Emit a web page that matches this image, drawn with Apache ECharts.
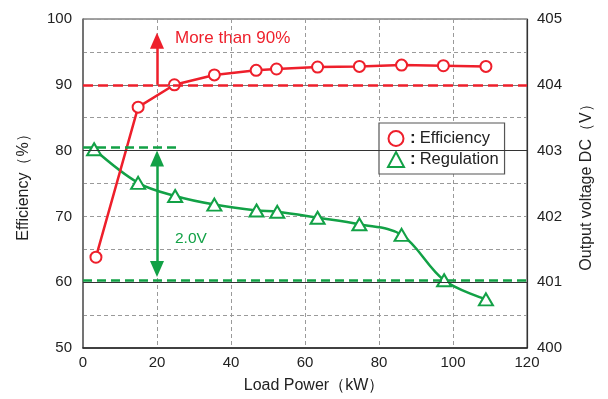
<!DOCTYPE html>
<html><head><meta charset="utf-8">
<script src="https://cdn.jsdelivr.net/npm/echarts@6/dist/echarts.min.js"></script>
<style>html,body{margin:0;padding:0;background:#fff}#c{width:608px;height:399px}</style>
</head><body><div id="c"></div>
<script>
// Data
var effX = [3.5, 14.9, 24.7, 35.5, 46.8, 52.3, 63.4, 74.7, 86.1, 97.4, 108.9];
var effY = [63.8, 86.6, 90.0, 91.5, 92.2, 92.4, 92.7, 92.8, 93.0, 92.9, 92.8];
var regX = [3.0, 14.9, 24.9, 35.5, 46.9, 52.5, 63.4, 74.7, 86.1, 97.6, 108.9];
var regY = [403.02, 402.51, 402.31, 402.18, 402.09, 402.07, 401.98, 401.88, 401.72, 401.03, 400.74];
var xTicks = [0, 20, 40, 60, 80, 100, 120];
var effTicks = [50, 60, 70, 80, 90, 100];
var voltTicks = [400, 401, 402, 403, 404, 405];
var effTarget = 90;          // "More than 90%"
var effArrow = [20, 90, 96.7];
var voltUpper = 403.05, voltUpperEndX = 25.7;
var voltLower = 401.03;
var voltArrow = [20, 402.88, 401.2];
var seriesNames = ['Efficiency', 'Regulation'];

var RED = '#ee1f2b', GREEN = '#12a146', TXT = '#222', FONT = 'Liberation Sans, Arial, Helvetica, sans-serif';
var chart = echarts.init(document.getElementById('c'), null, {renderer: 'canvas'});
var dashGrid = {show: true, lineStyle: {color: '#9a9a9a', type: [4, 3], width: 1}};
function pairs(xs, ys){ return xs.map(function(x,i){return [x, ys[i]];}); }

chart.setOption({
  animation: false,
  textStyle: {fontFamily: FONT},
  grid: {left: 83, top: 19, right: 81, bottom: 47, show: true, borderColor: '#444', borderWidth: 1},
  legend: {
    orient: 'vertical', left: 379, top: 123,
    backgroundColor: '#fff', borderColor: '#555', borderWidth: 1.2,
    padding: [7, 6, 6, 8], itemGap: 4, itemWidth: 16, itemHeight: 15,
    textStyle: {fontSize: 16, color: TXT, fontFamily: FONT,
      rich: {c: {fontSize: 17, fontWeight: 'bold', color: TXT, padding: [0, 4, 0, 1]},
             n: {fontSize: 16.5, color: TXT}}},
    formatter: function(n){ return '{c|:}{n|' + n + '}'; },
    data: [{name: seriesNames[0], icon: 'emptyCircle'}, {name: seriesNames[1], icon: 'emptyTriangle'}]
  },
  xAxis: {
    type: 'value', min: xTicks[0], max: xTicks[xTicks.length-1], interval: 20,
    name: 'Load Power\uFF08kW\uFF09', nameLocation: 'middle', nameGap: 30,
    nameTextStyle: {fontSize: 16, color: TXT, padding: [0, 0, 0, 18]},
    axisLine: {lineStyle: {color: '#222', width: 1.5}}, axisTick: {show: false},
    axisLabel: {fontSize: 15, color: TXT, margin: 7},
    splitLine: dashGrid
  },
  yAxis: [{
    type: 'value', min: effTicks[0], max: effTicks[effTicks.length-1], interval: 10,
    name: 'Efficiency\uFF08%\uFF09', nameLocation: 'middle', nameGap: 51, nameRotate: 90,
    nameTextStyle: {fontSize: 16, color: TXT},
    axisLine: {show: true, lineStyle: {color: '#666', width: 1.5}}, axisTick: {show: false},
    axisLabel: {fontSize: 15, color: TXT, margin: 11},
    splitLine: dashGrid,
    minorTick: {show: false, splitNumber: 2},
    minorSplitLine: dashGrid
  }, {
    type: 'value', position: 'right', min: voltTicks[0], max: voltTicks[voltTicks.length-1], interval: 1,
    name: 'Output voltage DC\uFF08V\uFF09', nameLocation: 'middle', nameGap: 52, nameRotate: 90,
    nameTextStyle: {fontSize: 16, color: TXT},
    axisLine: {show: true, lineStyle: {color: '#333', width: 1.2}}, axisTick: {show: false},
    axisLabel: {fontSize: 15, color: TXT, margin: 10},
    splitLine: {show: false}
  }],
  series: [{
    name: 'refs', type: 'line', data: [], yAxisIndex: 0, silent: true,
    markLine: {silent: true, symbol: 'none', label: {show: false},
      lineStyle: {color: '#333', type: 'solid', width: 1.2},
      data: [{yAxis: 60}, {yAxis: 80}, {yAxis: 90, lineStyle: {color: '#777'}}]}
  }, {
    name: seriesNames[1], type: 'line', yAxisIndex: 1, data: pairs(regX, regY),
    smooth: 0.35, symbol: 'emptyTriangle', symbolSize: [14, 12],
    lineStyle: {color: GREEN, width: 2.5}, itemStyle: {color: GREEN, borderWidth: 1.6},
    z: 3,
    markLine: {silent: true, label: {show: false}, symbol: 'none',
      lineStyle: {color: GREEN, type: [9, 5], width: 2.5},
      data: [
        [{coord: [xTicks[0], voltUpper]}, {coord: [voltUpperEndX, voltUpper]}],
        [{coord: [xTicks[0], voltLower]}, {coord: [xTicks[xTicks.length-1], voltLower]}],
        [{coord: [voltArrow[0], voltArrow[1]], symbol: 'triangle', lineStyle: {type: 'solid', width: 2.5}},
         {coord: [voltArrow[0], voltArrow[2]], symbol: 'triangle'}]
      ],
      symbolSize: [14, 16]
    }
  }, {
    name: seriesNames[0], type: 'line', yAxisIndex: 0, data: pairs(effX, effY),
    symbol: 'emptyCircle', symbolSize: 11,
    lineStyle: {color: RED, width: 2.5}, itemStyle: {color: RED, borderWidth: 1.6},
    z: 4,
    markLine: {silent: true, label: {show: false}, symbol: 'none', symbolSize: [14, 16],
      lineStyle: {color: RED, type: [10, 5], width: 2.5},
      data: [
        [{coord: [xTicks[0], effTarget]}, {coord: [xTicks[xTicks.length-1], effTarget]}],
        [{coord: [effArrow[0], effArrow[1]], symbol: 'none', lineStyle: {type: 'solid', width: 2.5}},
         {coord: [effArrow[0], effArrow[2]], symbol: 'triangle'}]
      ]
    }
  }],
  graphic: [
    {type: 'text', left: 175, top: 30, style: {text: 'More than 90%', fill: RED, font: '17px ' + FONT}},
    {type: 'text', left: 175, top: 231, style: {text: '2.0V', fill: GREEN, font: '15.5px ' + FONT}}
  ]
});
</script></body></html>
